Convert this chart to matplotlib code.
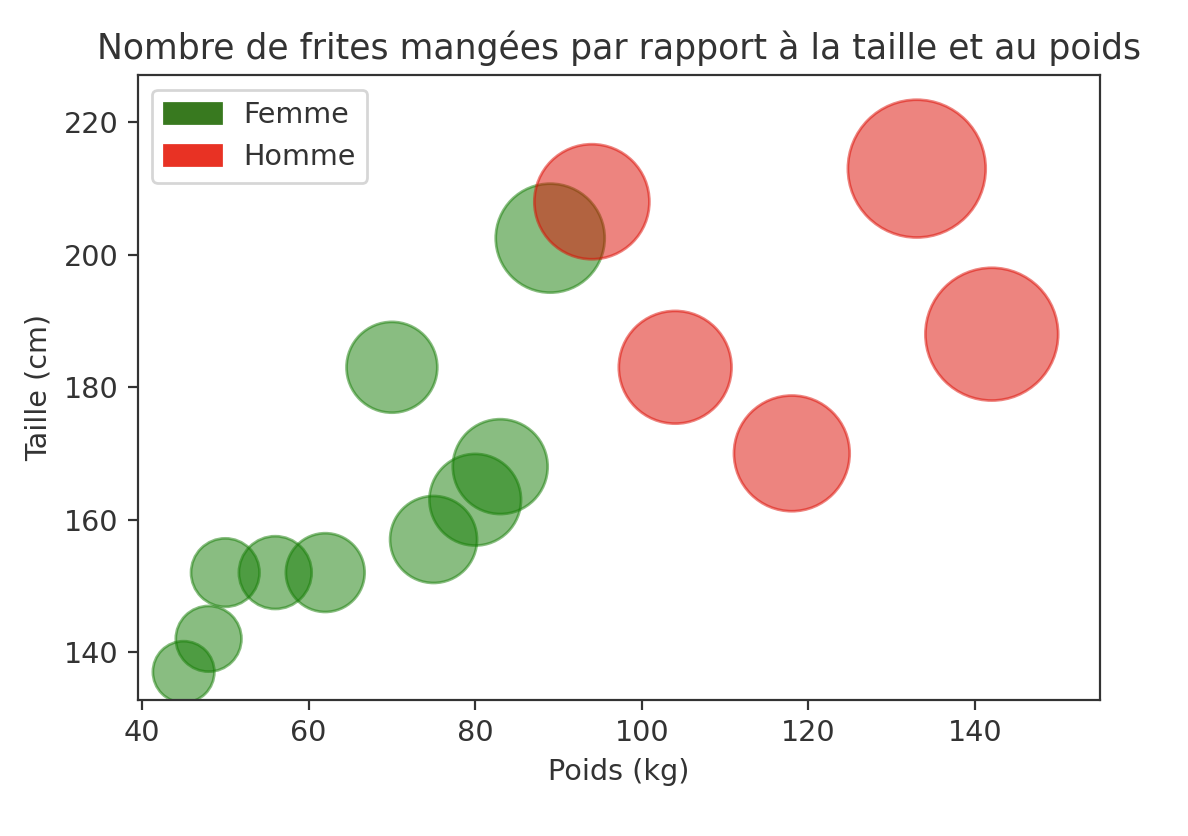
import matplotlib
matplotlib.use("Agg")
from matplotlib import pyplot as plt
import matplotlib.patches as mpatches

# femmes
poids_f = [45, 48, 50, 56, 62, 70, 75, 80, 83, 89]
taille_f = [137, 142, 152, 152, 152, 183, 157, 163, 168, 202.5]
frites_f = [50, 57, 62, 70, 82, 109, 100, 111, 119, 157]

# hommes
poids_h = [94, 104, 118, 133, 142]
taille_h = [208, 183, 170, 213, 188]
frites_h = [175, 168, 177, 251, 233]

COULEUR_F = "#157d05"
COULEUR_H = "#dc0a00"
GRIS = "#333333"

plt.rcParams.update({
    "text.color": GRIS,
    "axes.labelcolor": GRIS,
    "axes.edgecolor": GRIS,
    "xtick.color": GRIS,
    "ytick.color": GRIS,
    "xtick.labelsize": 10.4,
    "ytick.labelsize": 10.4,
    "axes.labelsize": 10.4,
    "legend.fontsize": 10.4,
})


def main():
    fig = plt.figure(figsize=(6, 836 / 198), dpi=198)
    ax = fig.add_axes([0.116, 0.163, 0.81, 0.747])

    ax.scatter(poids_f, taille_f, s=[f * 10 for f in frites_f], color=COULEUR_F,
               alpha=0.5, linewidths=1.0)
    ax.scatter(poids_h, taille_h, s=[f * 10 for f in frites_h], color=COULEUR_H,
               alpha=0.5, linewidths=1.0)

    ax.set_xlim(39.5, 155)
    ax.set_ylim(132.8, 227.1)
    ax.set_xticks([40, 60, 80, 100, 120, 140])
    ax.set_yticks([140, 160, 180, 200, 220])

    ax.set_title("Nombre de frites mangées par rapport à la taille et au poids", fontsize=12.6)
    ax.set_xlabel("Poids (kg)")
    ax.set_ylabel("Taille (cm)")

    femme = mpatches.Patch(color="#38791f", label="Femme")
    homme = mpatches.Patch(color="#e83224", label="Homme")
    ax.legend(handles=[femme, homme], loc="upper left")

    fig.savefig("out.png", dpi=198)


if __name__ == "__main__":
    main()
